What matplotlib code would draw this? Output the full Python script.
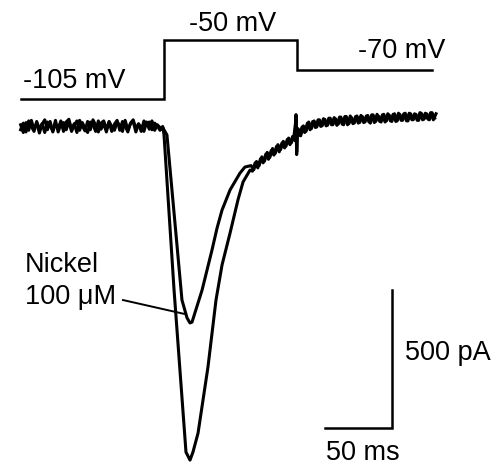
"""
plot.py
Ca2+ current traces (control vs 100 uM nickel) with the voltage step protocol.
"""

import numpy as np
import matplotlib
matplotlib.use('Agg')
import matplotlib.pyplot as plt

# ── Voltage protocol ───────────────────────────────────
STEP_TIMES  = [-106.5, 0, 99, 200]        # ms: start, step on, step off, end
STEP_LEVELS = [-105, -50, -70]           # mV
STEP_LABELS = ['-105 mV', '-50 mV', '-70 mV']
# drawn height of each level in the schematic (not to scale in the original)
LEVEL_HEIGHT = {-105: 0.0, -50: 1.0, -70: 0.5}

# ── Current traces (pA) ────────────────────────────────
DT = 2.0                                  # ms, sampling of the noisy stretches
BASE_T0 = -107.0
base_control = [8, -20, 16, -12, 24, -8, 14, -22, 10, 26,
                -10, 20, -18, 12, -6, 22, -16, 18, 28, -8,
                12, -20, 24, 4, -14, 20, -10, 26, 6, -18,
                14, 22, -8, 18, -16, 10, 24, -12, 20, 4,
                -18, 14, 26, -6, 12, -16, 22, 6, 18, -10,
                14, 4, -12, 2]
base_nickel = [-10, 14, -18, 22, 2, -16, 20, -8, 12, -20,
               18, 4, -14, 24, -18, 10, 16, -10, 20, -16,
               6, 22, -12, 16, -4, -20, 18, 8, -16, 22,
               -8, 12, -18, 20, 2, -12, 18, 6, -16, 24,
               -10, 12, 20, -18, 10, 0, -16, 18, -8, 22,
               -12, 8, -2, -10]

# activation / inactivation, read point by point
peak_t_control = [-0.7, 0.0, 7.5, 16.4, 19.4, 21.6, 25.4, 32.8, 38.8, 43.3,
                  49.3, 55.2, 59.0, 64.2]
peak_i_control = [-4, -29, -591, -1178, -1207, -1178, -1109, -870, -627, -500,
                  -384, -264, -199, -156]
peak_t_nickel = [-0.7, 2.2, 13.4, 17.2, 19.4, 20.9, 28.4, 32.1, 35.8, 39.6,
                 43.3, 49.3, 56.7, 60.4]
peak_i_nickel = [-4, -29, -627, -692, -710, -707, -591, -518, -446, -366,
                 -301, -228, -167, -145]

# noisy late part of the step (control from 66 ms, nickel from 65 ms)
late_control = [-160, -130, -148, -115, -130, -98, -117, -85, -102, -70,
                -90, -58, -76, -45, -64, -34, -50]
late_nickel = [-140, -155, -125, -140, -108, -124, -92, -110, -78, -96,
               -64, -82, -52, -70, -40, -58, -32]

# capacitive artefact at the step off (t, pA)
spike_t = [98.5, 99.0, 99.5]
spike_control = [45, -100, -30]
spike_nickel = [30, -90, -25]

# tail at -70 mV (control from 101 ms, nickel from 100 ms)
tail_control = [-30, 0, -20, 14, -10, 20, -2, 26, 2, 30,
                4, 32, 8, 34, 6, 36, 10, 38, 8, 40,
                12, 38, 14, 42, 16, 40, 18, 44, 16, 46,
                20, 44, 18, 48, 22, 46, 20, 50, 24, 48,
                22, 50, 26, 48, 24, 52, 26, 50, 28, 52,
                26, 48]
tail_nickel = [-6, -32, 4, -16, 18, -6, 22, 0, 26, 4,
               28, 6, 32, 8, 30, 10, 36, 8, 38, 12,
               34, 14, 40, 16, 38, 18, 42, 14, 44, 20,
               40, 18, 46, 22, 44, 20, 48, 22, 46, 24,
               50, 22, 48, 26, 46, 24, 50, 28, 48, 26,
               52, 32]

# ── Annotations ────────────────────────────────────────
NICKEL_LABEL = ['Nickel', '100 \u03bcM']
SCALE_MS = 50
SCALE_PA = 500
SCALE_CORNER = (170.0, -1090.0)          # ms, pA
LEADER = ([-30.6, 14.9], [-627, -677])   # ms, pA

FONT = 'Liberation Sans'
FSIZE = 19.5
LW = 2.2
# ───────────────────────────────────────────────────────


def sampled(t0, values):
    t = t0 + DT * np.arange(len(values))
    return list(t), list(values)


def build_trace(base, peak_t, peak_i, late_t0, late, spike, tail_t0, tail):
    bt, bi = sampled(BASE_T0, base)
    lt, li = sampled(late_t0, late)
    tt, ti = sampled(tail_t0, tail)
    t = bt + peak_t + lt + spike_t + tt
    i = bi + peak_i + li + spike + ti
    return np.array(t), np.array(i)


fig = plt.figure(figsize=(4.99, 4.66), dpi=100)

# current axes: ms vs pA
ax = fig.add_axes([0, 0, 1, 1])
ax.set_xlim(-122.4, 250.0)
ax.set_ylim(-1228.3, 460.1)
ax.axis('off')

# voltage axes: same time base, schematic heights
axv = fig.add_axes([0, 0, 1, 1], sharex=ax)
axv.set_ylim(-6.22, 1.678)
axv.axis('off')
axv.patch.set_alpha(0)

# voltage step
v_heights = [LEVEL_HEIGHT[v] for v in STEP_LEVELS]
axv.step(STEP_TIMES, v_heights + [v_heights[-1]], where='post',
         color='black', lw=1.8, solid_joinstyle='miter')
label_pos = [(-105.2, 0.186), (18.7, 1.153), (144.8, 0.695)]
for lab, (tx, vy) in zip(STEP_LABELS, label_pos):
    axv.text(tx, vy, lab, fontsize=FSIZE, family=FONT, va='baseline', ha='left')

# current traces
tc, ic = build_trace(base_control, peak_t_control, peak_i_control, 66.0,
                     late_control, spike_control, 101.0, tail_control)
tn, i_n = build_trace(base_nickel, peak_t_nickel, peak_i_nickel, 65.0,
                      late_nickel, spike_nickel, 100.0, tail_nickel)
ax.plot(tc, ic, color='black', lw=LW, solid_joinstyle='round')
ax.plot(tn, i_n, color='black', lw=LW, solid_joinstyle='round')

# nickel label + leader line
ax.text(-103.7, -525, NICKEL_LABEL[0], fontsize=FSIZE, family=FONT, va='baseline')
ax.text(-103.7, -641, NICKEL_LABEL[1], fontsize=FSIZE, family=FONT, va='baseline')
ax.plot(LEADER[0], LEADER[1], color='black', lw=1.4)

# scale bars
cx, cy = SCALE_CORNER
ax.plot([cx - SCALE_MS, cx, cx], [cy, cy, cy + SCALE_PA], color='black',
        lw=1.8, solid_joinstyle='miter')
ax.text(179.9, -844, f'{SCALE_PA} pA', fontsize=FSIZE, family=FONT, va='baseline')
ax.text(120.9, -1206.5, f'{SCALE_MS} ms', fontsize=FSIZE, family=FONT, va='baseline')

fig.savefig('out.png', dpi=100)
